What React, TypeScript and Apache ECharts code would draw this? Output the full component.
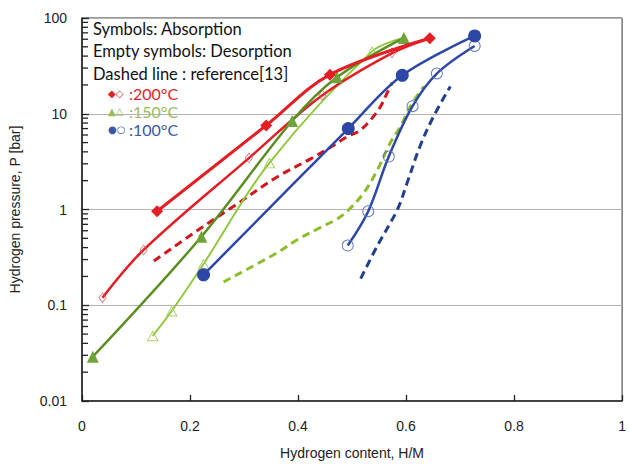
import React, { useEffect, useRef } from "react";
import * as echarts from "echarts";

// x: hydrogen content H/M, y: hydrogen pressure (bar)
const abs200: [number, number][] = [[0.139, 0.96], [0.341, 7.55], [0.459, 25.6], [0.644, 61.5]];
const des200: [number, number][] = [[0.644, 61.5], [0.574, 43], [0.445, 15.6], [0.309, 3.44], [0.114, 0.378], [0.038, 0.12]];
const abs150: [number, number][] = [[0.02, 0.029], [0.221, 0.52], [0.389, 8.4], [0.472, 24], [0.596, 62]];
const des150: [number, number][] = [[0.596, 62], [0.537, 44.8], [0.347, 3.07], [0.225, 0.27], [0.166, 0.087], [0.131, 0.048]];
const abs100: [number, number][] = [[0.225, 0.208], [0.493, 7.0], [0.593, 25.2], [0.727, 65]];
const des100: [number, number][] = [[0.727, 51], [0.657, 26.3], [0.612, 12], [0.568, 3.57], [0.53, 0.96], [0.492, 0.42]];
const ref200: [number, number][] = [[0.133, 0.29], [0.222, 0.65], [0.283, 1.1], [0.362, 2.2], [0.424, 3.4], [0.461, 4.5], [0.492, 5.8], [0.513, 6.6], [0.535, 8.7], [0.553, 12], [0.565, 16.5], [0.574, 21]];
const ref150: [number, number][] = [[0.262, 0.175], [0.363, 0.358], [0.4, 0.49], [0.437, 0.63], [0.473, 0.8], [0.492, 0.97], [0.522, 1.5], [0.547, 2.6], [0.571, 5.0], [0.59, 7.4], [0.608, 12], [0.633, 19.3]];
const ref100: [number, number][] = [[0.516, 0.19], [0.547, 0.42], [0.584, 1.0], [0.602, 1.9], [0.626, 4.6], [0.651, 9.4], [0.682, 19.3]];

const decades = [0.01, 0.1, 1, 10];
const minorFactors = [2, 3, 4, 5, 6, 7, 8, 9];
const yTickLabels = ["0.01", "0.1", "1", "10", "100"];

const legendLines = ["Symbols: Absorption", "Empty symbols: Desorption", "Dashed line : reference[13]"];
const tempLabels = [":200°C", ":150°C", ":100°C"];

const RED = "#e31e24";
const RED_D = "#d2161c";
const GREEN_A = "#5b8d22";
const GREEN_AF = "#6ea53a";
const GREEN_D = "#92c83e";
const GREEN_DS = "#a9cf62";
const GREEN_REF = "#8dbf2c";
const BLUE = "#2c47a6";
const BLUE_O = "#5d73bd";
const BLUE_REF = "#213f8c";

// hollow symbol outlines (outer contour + reversed inner contour)
const RING = "path://M0,-10A10,10 0 1,1 0,10A10,10 0 1,1 0,-10ZM0,-8.4A8.4,8.4 0 1,0 0,8.4A8.4,8.4 0 1,0 0,-8.4Z";
const DIAMOND_RING = "path://M0,-10L7,0L0,10L-7,0ZM0,-8.1L-5.6,0L0,8.1L5.6,0Z";
const TRI_RING = "path://M0,-10L10,8L-10,8ZM0,-6.6L-7.4,6.4L7.4,6.4Z";

export default function App() {
  const ref = useRef<HTMLDivElement>(null);
  useEffect(() => {
    const chart = echarts.init(ref.current!, undefined, { renderer: "svg" });
    const minorData: [number, number][] = [];
    decades.forEach((d) => minorFactors.forEach((k) => minorData.push([0, d * k])));

    const lineS = (name: string, data: [number, number][], color: string, width: number, symbol: string, size: number | number[], symColor: string, z: number) => ({
      name,
      type: "line",
      data,
      smooth: 0.35,
      symbol,
      symbolSize: size,
      showSymbol: true,
      clip: false,
      z,
      lineStyle: { color, width },
      itemStyle: { color: symColor, borderWidth: 0 },
    });
    const dashS = (name: string, data: [number, number][], color: string) => ({
      name,
      type: "line",
      data,
      smooth: 0.35,
      symbol: "none",
      z: 2,
      lineStyle: { color, width: 3, type: [8, 5] },
    });

    const legendFont = "Lato, 'Open Sans', sans-serif";
    const tempColors = [RED, "#9bbb59", "#3a58a6"];
    const tempSyms = ["◆◇", "▲△", "●○"];
    const axisFont = "'Liberation Sans', Arial, sans-serif";

    chart.setOption({
      animation: false,
      backgroundColor: "#ffffff",
      grid: { left: 82, right: 3, top: 18, bottom: 62, show: true, borderColor: "#333", borderWidth: 1 },
      xAxis: {
        type: "value",
        min: 0,
        max: 1,
        interval: 0.2,
        axisLine: { show: true, lineStyle: { color: "#222", width: 1.5 } },
        axisTick: { show: true, inside: true, length: 6, lineStyle: { color: "#222", width: 1.3 } },
        splitLine: { show: false },
        axisLabel: {
          color: "#222",
          fontSize: 14,
          fontFamily: axisFont,
          margin: 18,
          formatter: (v: number) => String(Math.round(v * 10) / 10),
        },
        name: "Hydrogen content, H/M",
        nameLocation: "middle",
        nameGap: 45,
        nameTextStyle: { color: "#222", fontSize: 14, fontFamily: axisFont },
      },
      yAxis: {
        type: "log",
        logBase: 10,
        min: 0.01,
        max: 100,
        axisLine: { show: true, lineStyle: { color: "#222", width: 1.5 } },
        axisTick: { show: true, inside: true, length: 7, lineStyle: { color: "#222", width: 1.3 } },
        splitLine: { show: true, lineStyle: { color: "#b4b4b4", width: 1.2 } },
        axisLabel: {
          color: "#222",
          fontSize: 14,
          fontFamily: axisFont,
          margin: 15,
          formatter: (v: number) => {
            const e = Math.round(Math.log10(v)) + 2;
            return yTickLabels[e] ?? String(v);
          },
        },
        name: "Hydrogen pressure, P [bar]",
        nameLocation: "middle",
        nameGap: 60,
        nameRotate: 90,
        nameTextStyle: { color: "#222", fontSize: 14, fontFamily: axisFont },
      },
      series: [
        {
          type: "custom",
          data: minorData,
          silent: true,
          clip: false,
          z: 10,
          encode: { x: 0, y: 1 },
          renderItem: (_p: any, api: any) => {
            const pt = api.coord([api.value(0), api.value(1)]);
            return {
              type: "line",
              shape: { x1: pt[0], y1: pt[1], x2: pt[0] + 6, y2: pt[1] },
              style: { stroke: "#222", lineWidth: 1.3 },
            };
          },
        },
        dashS("ref200", ref200, RED_D),
        dashS("ref150", ref150, GREEN_REF),
        dashS("ref100", ref100, BLUE_REF),
        lineS("des150", des150, GREEN_D, 2, TRI_RING, [12, 11], GREEN_DS, 3),
        lineS("des200", des200, RED, 2.5, DIAMOND_RING, [8, 11], "#e0505a", 4),
        lineS("des100", des100, BLUE, 2.5, RING, 12, BLUE_O, 4),
        lineS("abs150", abs150, GREEN_A, 2.5, "triangle", 12, GREEN_AF, 5),
        lineS("abs200", abs200, RED, 3, "diamond", 12, RED, 6),
        lineS("abs100", abs100, BLUE, 2.5, "circle", 13, BLUE, 6),
      ],
      graphic: [
        ...legendLines.map((t, i) => ({
          type: "text",
          left: 93,
          top: 20 + i * 22.5,
          z: 100,
          style: { text: t, fill: "#111", fontSize: 16.5, fontFamily: legendFont },
        })),
        ...tempSyms.map((t, i) => ({
          type: "text",
          left: 108,
          top: 88 + i * 18,
          z: 100,
          style: { text: t, fill: tempColors[i], fontSize: 10, fontFamily: "'DejaVu Sans', sans-serif" },
        })),
        ...tempLabels.map((t, i) => ({
          type: "text",
          left: 129,
          top: 85 + i * 18,
          z: 100,
          style: { text: t, fill: tempColors[i], fontSize: 16, fontFamily: legendFont },
        })),
      ],
    });
    return () => chart.dispose();
  }, []);
  return <div ref={ref} style={{ position: "absolute", left: 0, top: 0, width: 629, height: 465 }} />;
}
